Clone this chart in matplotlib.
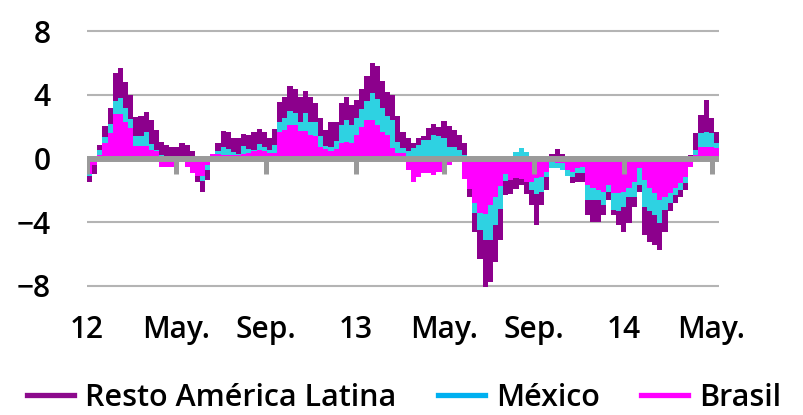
import numpy as np
import pandas as pd
import matplotlib
matplotlib.use('Agg')
import matplotlib.pyplot as plt
from matplotlib.lines import Line2D

plt.rcParams['font.family'] = ['Open Sans', 'DejaVu Sans']
plt.rcParams['font.weight'] = 'semibold'

# contribuciones semanales (pp), ene-2012 a may-2014
brasil = [-1.0, -0.4, 0.2, 0.96, 1.6, 2.8, 2.8, 2.3, 1.9, 0.8, 0.8, 0.8, 0.55, 0.45, -0.5, -0.5,
          -0.55, -0.3, 0.0, -0.5, -0.9, -1.1, -1.1, -0.4, 0.3, 0.3, 0.2, 0.2, 0.2, 0.2, 0.3,
          0.33, 0.45, 0.55, 0.45, 0.33, 0.35, 1.7, 1.8, 2.1, 2.1, 1.75, 1.75, 1.45, 1.4, 0.75,
          0.6, 0.45, 0.6, 0.95, 1.05, 0.95, 1.5, 2.0, 2.4, 2.4, 2.1, 1.7, 1.5, 0.65, 0.33, 0.33,
          -0.7, -1.45, -1.15, -0.93, -0.93, -1.03, -0.82, -0.82, -0.4, -0.2, 0.0, -1.3, -1.9,
          -2.8, -3.45, -3.5, -2.9, -2.4, -1.75, -1.0, -1.35, -1.2, -1.3, -1.5, -1.5, -1.2, -1.15,
          -0.85, -0.2, -0.3, -0.3, -0.7, -0.82, -0.6, -0.51, -1.66, -1.87, -1.98, -2.08, -1.66,
          -2.19, -2.19, -2.08, -1.87, -1.45, -0.6, -1.35, -1.87, -2.19, -2.6, -2.4, -2.19, -1.87,
          -1.56, -1.14, -0.5, 0.2, 0.75, 0.75, 0.75, 0.65]
mexico = [-0.1, 0.0, 0.35, 0.42, 0.6, 0.85, 1.0, 0.9, 0.6, 0.6, 0.6, 0.9, 0.35, 0.1, 0.2, 0.1,
          0.0, 0.0, 0.1, 0.1, 0.0, 0.0, -0.3, -0.3, 0.0, 0.2, 0.5, 0.4, 0.2, 0.1, 0.5,
          0.27, 0.1, 0.35, 0.25, 0.22, 0.5, 0.6, 0.75, 0.9, 0.75, 0.55, 1.1, 0.85, 0.9, 0.65,
          0.2, 0.3, 0.5, 1.15, 1.35, 1.15, 1.05, 1.1, 1.2, 1.7, 1.65, 1.45, 1.15, 1.75, 0.72, 0.32,
          0.5, 0.65, 0.86, 1.17, 1.17, 1.49, 1.39, 1.28, 0.75, 0.75, 0.54, 0.23, 0.0,
          -0.65, -1.05, -1.6, -2.2, -1.8, -1.45, -0.4, 0.0, 0.4, 0.65, 0.4, -0.5, -1.0, -0.95,
          -0.3, -0.4, -0.3, -0.4, -0.4, -0.36, -0.33, -0.42, -0.94, -0.73, -0.62, -0.84, -0.42,
          -1.04, -1.14, -0.94, -0.53, -0.95, -1.06, -1.67, -1.46, -1.35, -1.46, -0.83, -0.62, -0.42,
          -0.42, -0.42, 0.0, 0.34, 0.84, 0.94, 0.84, 0.31]
resto = [-0.4, -0.6, 0.3, 0.67, 1.0, 1.75, 1.9, 1.6, 1.5, 1.2, 1.25, 1.2, 1.5, 1.25, 0.85, 0.75,
         0.75, 0.75, 0.9, 0.75, 0.5, -0.4, -0.7, -0.65, -0.1, 0.5, 1.05, 1.1, 0.9, 1.0, 0.75,
         0.9, 1.15, 0.95, 0.95, 0.75, 1.0, 1.25, 1.35, 1.55, 1.55, 1.6, 1.4, 1.55, 1.2, 1.15,
         1.0, 1.55, 1.2, 1.4, 1.45, 1.25, 1.15, 1.3, 1.6, 1.9, 2.05, 1.7, 1.55, 1.6, 1.6, 1.05,
         0.8, 0.3, 0.42, 0.22, 0.74, 0.69, 0.62, 1.11, 1.3, 1.05, 0.95, 0.77, -0.5,
         -1.15, -1.8, -2.95, -2.65, -2.3, -1.9, -0.9, -0.85, -0.7, -0.35, -0.7, -0.9, -2.0, -0.8,
         -0.85, 0.3, 0.6, 0.3, 0.0, -0.38, -0.52, -0.52, -0.94, -1.36, -1.36, -0.62, -0.52,
         -0.31, -0.84, -1.57, -1.66, -0.62, -0.44, -1.78, -1.89, -1.89, -1.68, -1.36, -0.52, -0.52,
         -0.42, -0.42, 0.2, 1.05, 1.15, 2.0, 0.94, 0.73]

fechas = pd.date_range('2012-01-01', periods=len(brasil), freq='7D')
tick_fechas = pd.to_datetime(['2012-01-01', '2012-05-01', '2012-09-01', '2013-01-01',
                              '2013-05-01', '2013-09-01', '2014-01-01', '2014-05-01'])
tick_labels = ['12', 'May.', 'Sep.', '13', 'May.', 'Sep.', '14', 'May.']

series = [('Brasil', brasil, '#ff00ff', '#ff00ff'),
          ('México', mexico, '#2ed2e2', '#00b0f0'),
          ('Resto América Latina', resto, '#8c008c', '#8c0a8c')]

fig = plt.figure(figsize=(8.04, 4.15), dpi=100)
ax = fig.add_axes([0.1082, 0.2923, 0.786, 0.6513])

pos = np.zeros(len(brasil))
neg = np.zeros(len(brasil))
for nombre, vals, color, _ in series:
    v = np.array(vals)
    base = np.where(v >= 0, pos, neg)
    ax.bar(fechas, v, width=7, align='edge', bottom=base, color=color,
           linewidth=0, zorder=2)
    pos = pos + np.clip(v, 0, None)
    neg = neg + np.clip(v, None, 0)

for y in [-8, -4, 4, 8]:
    ax.axhline(y, color='#b4b4b4', lw=1.5, zorder=0)
ax.axhline(0, color='#9a9a9a', lw=4.3, zorder=3)
ax.vlines(tick_fechas, -0.97, 0, color='#9a9a9a', lw=3.6, zorder=3)

ax.set_xlim(pd.Timestamp('2012-01-01'), fechas[-1] + pd.Timedelta(days=7))
ax.set_ylim(-8.5, 8.5)
ax.set_yticks([-8, -4, 0, 4, 8])
ax.set_yticklabels(['\u22128', '\u22124', '0', '4', '8'])
ax.set_xticks(tick_fechas)
ax.set_xticklabels(tick_labels)
ax.tick_params(axis='y', length=0, pad=26, labelsize=21.5)
ax.tick_params(axis='x', length=0, pad=15, labelsize=21.5)
for s in ax.spines.values():
    s.set_visible(False)

handles = [Line2D([0], [0], color=hc, lw=3.8) for _, _, _, hc in series[::-1]]
labels = [n for n, _, _, _ in series[::-1]]
fig.legend(handles, labels, loc='center', bbox_to_anchor=(0.5025, 0.042), ncol=3,
           frameon=False, fontsize=22, handlelength=1.55, handletextpad=0.35,
           columnspacing=1.35, borderpad=0.2)

fig.savefig('out.png', dpi=100)
